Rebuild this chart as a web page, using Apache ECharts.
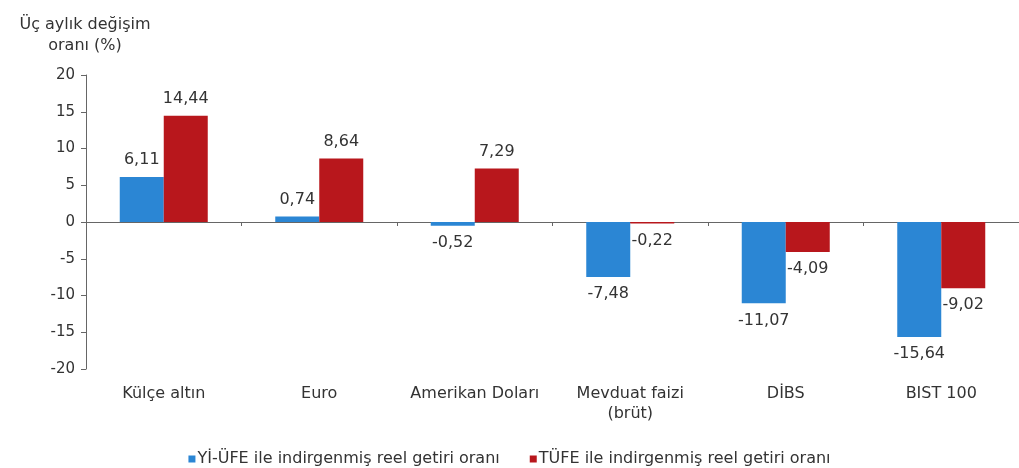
<!DOCTYPE html>
<html>
<head>
<meta charset="utf-8">
<script src="https://cdn.jsdelivr.net/npm/echarts@6/dist/echarts.min.js"></script>
<style>
  html, body { margin: 0; padding: 0; background: #fff; }
  #c1 { width: 1019px; height: 468px; }
</style>
</head>
<body>
<div id="c1"></div>
<script>
var categories = ["Külçe altın", "Euro", "Amerikan Doları", "Mevduat faizi\n(brüt)", "DİBS", "BIST 100"];
var yiUfe = [6.11, 0.74, -0.52, -7.48, -11.07, -15.64];
var tufe = [14.44, 8.64, 7.29, -0.22, -4.09, -9.02];
var seriesNames = ["Yİ-ÜFE ile indirgenmiş reel getiri oranı", "TÜFE ile indirgenmiş reel getiri oranı"];

var font = "DejaVu Sans, Liberation Sans, sans-serif";

var chartDom = document.getElementById("c1");
var myChart = echarts.init(chartDom);

// label above positive bars, below negative ones
function withLabels(arr) {
  return arr.map(function (v) {
    return {
      value: v,
      label: { position: v >= 0 ? "top" : "bottom" }
    };
  });
}

function comma(p) {
  return String(p.value).replace(".", ",");
}

var option = {
  animation: false,
  textStyle: { fontFamily: font },
  title: {
    text: "Üç aylık değişim\noranı (%)",
    left: 80,
    top: 9,
    textAlign: "center",
    textStyle: { fontSize: 16, fontWeight: "normal", color: "#333", lineHeight: 21, fontFamily: font }
  },
  legend: {
    top: 446,
    left: "center",
    icon: "rect",
    itemWidth: 7,
    itemHeight: 7,
    itemGap: 30,
    textStyle: { fontSize: 16, color: "#333", fontFamily: font, padding: [0, 0, 0, -3] },
    data: seriesNames
  },
  grid: { left: 86, right: 0, top: 75, bottom: 99 },
  xAxis: [
    {
      type: "category",
      data: categories,
      position: "bottom",
      axisLine: { show: false, onZero: false },
      axisTick: { show: false },
      axisLabel: { interval: 0, fontSize: 16, color: "#333", margin: 15, lineHeight: 20, fontFamily: font }
    },
    {
      type: "category",
      data: categories,
      position: "top",
      axisLine: { show: true, onZero: true, lineStyle: { color: "#666", width: 1 } },
      axisTick: { show: true, inside: true, length: 4, lineStyle: { color: "#666" } },
      axisLabel: { show: false }
    }
  ],
  yAxis: {
    type: "value",
    min: -20,
    max: 20,
    interval: 5,
    splitLine: { show: false },
    axisLine: { show: true, lineStyle: { color: "#666", width: 1 } },
    axisTick: { show: true, length: 5, lineStyle: { color: "#666" } },
    axisLabel: { fontSize: 15, color: "#333", margin: 11, fontFamily: font }
  },
  series: [
    {
      name: seriesNames[0],
      type: "bar",
      xAxisIndex: 0,
      barWidth: 44,
      barGap: "0%",
      itemStyle: { color: "#2b86d4" },
      label: { show: true, distance: 9, fontSize: 16, color: "#333", fontFamily: font, formatter: comma },
      data: withLabels(yiUfe)
    },
    {
      name: seriesNames[1],
      type: "bar",
      xAxisIndex: 0,
      barWidth: 44,
      barGap: "0%",
      itemStyle: { color: "#b8171c" },
      label: { show: true, distance: 9, fontSize: 16, color: "#333", fontFamily: font, formatter: comma },
      data: withLabels(tufe)
    }
  ]
};

myChart.setOption(option);
</script>
</body>
</html>
